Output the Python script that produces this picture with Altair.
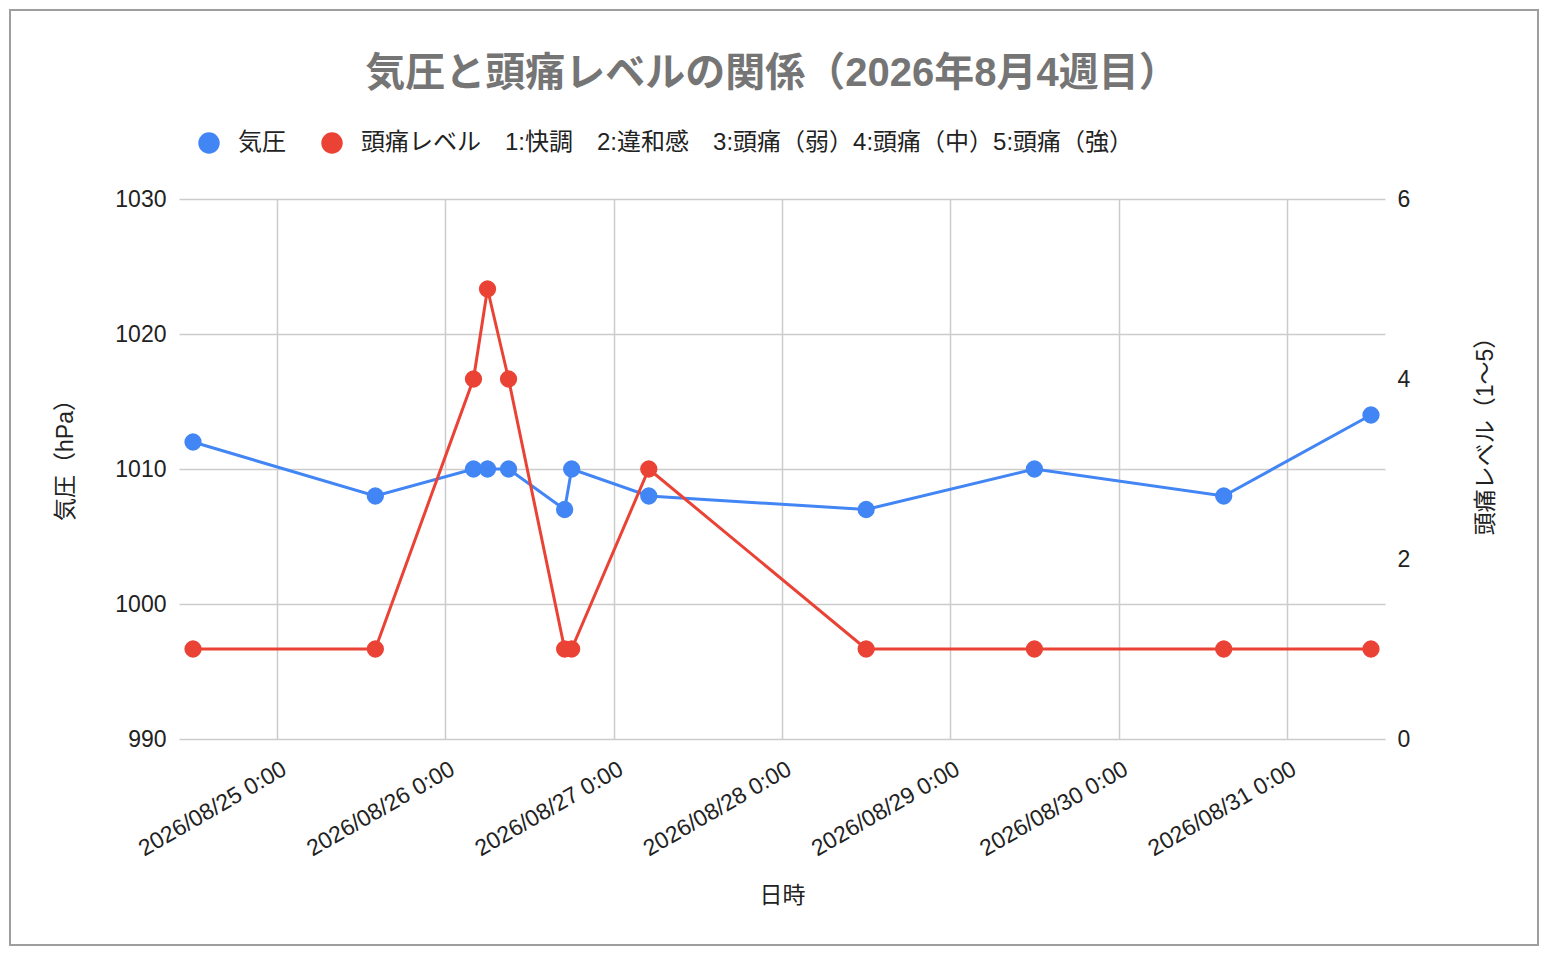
import altair as alt
import pandas as pd

FONT = "Liberation Sans, Arial, Noto Sans CJK JP"

times = [
    "2026-08-24T12:00", "2026-08-25T14:00", "2026-08-26T04:00", "2026-08-26T06:00",
    "2026-08-26T09:00", "2026-08-26T17:00", "2026-08-26T18:00", "2026-08-27T05:00",
    "2026-08-28T12:00", "2026-08-29T12:00", "2026-08-30T15:00", "2026-08-31T12:00",
]
pressure = [1012, 1008, 1010, 1010, 1010, 1007, 1010, 1008, 1007, 1010, 1008, 1014]
level = [1, 1, 4, 5, 4, 1, 1, 3, 1, 1, 1, 1]

series_names = ["気圧", "頭痛レベル　1:快調　2:違和感　3:頭痛（弱）4:頭痛（中）5:頭痛（強）"]
series_colors = ["#4285F4", "#EA4335"]

df_p = pd.DataFrame({"t": pd.to_datetime(times), "v": pressure, "s": series_names[0]})
df_l = pd.DataFrame({"t": pd.to_datetime(times), "v": level, "s": series_names[1]})

x = alt.X(
    "t:T",
    scale=alt.Scale(domain=[alt.DateTime(year=2026, month=8, date=24, hours=10),
                            alt.DateTime(year=2026, month=8, date=31, hours=14)], nice=False),
    axis=alt.Axis(
        title="日時", format="%Y/%m/%d %-H:%M", tickCount={"interval": "day", "step": 1},
        labelAngle=330, labelAlign="right", labelBaseline="middle",
        labelOffset=7, labelPadding=28, ticks=False, tickSize=0, domain=False,
        grid=True, titleY=156, titleBaseline="middle",
    ),
)
color = alt.Color(
    "s:N", scale=alt.Scale(domain=series_names, range=series_colors),
    legend=alt.Legend(
        title=None, orient="none", direction="horizontal", legendX=18, legendY=-68,
        symbolType="circle", symbolSize=460, symbolStrokeWidth=0, labelOffset=17,
        columnPadding=34, labelFontSize=24, labelColor="#222222", labelLimit=1400,
        labelFont=FONT,
    ),
)

y_p = alt.Y(
    "v:Q", scale=alt.Scale(domain=[990, 1030], nice=False),
    axis=alt.Axis(
        title="気圧（hPa）", values=[990, 1000, 1010, 1020, 1030], format="d", orient="left",
        labelPadding=13, ticks=False, tickSize=0, domain=False, grid=True,
        titleAngle=270, titleX=-114, titleY=255, titleAlign="center", titleBaseline="middle",
    ),
)
y_l = alt.Y(
    "v:Q", scale=alt.Scale(domain=[0, 6], nice=False),
    axis=alt.Axis(
        title="頭痛レベル（1〜5）", values=[0, 2, 4, 6], format="d", orient="right",
        labelPadding=12, ticks=False, tickSize=0, domain=False, grid=False,
        titleAngle=270, titleX=100, titleY=231, titleAlign="center", titleBaseline="middle",
    ),
)

p_line = alt.Chart(df_p).mark_line(strokeWidth=3, color=series_colors[0]).encode(x=x, y=y_p)
p_pts = alt.Chart(df_p).mark_point(filled=True, size=300, opacity=1).encode(x=x, y=y_p, color=color)
l_line = alt.Chart(df_l).mark_line(strokeWidth=3, color=series_colors[1]).encode(x=x, y=y_l)
l_pts = alt.Chart(df_l).mark_point(filled=True, size=300, opacity=1).encode(x=x, y=y_l, color=color)

# outer frame like the spreadsheet chart border
frame = alt.Chart(pd.DataFrame({"a": [0]})).mark_rect(
    fill=None, stroke="#9e9e9e", strokeWidth=2
).encode(x=alt.value(-169), x2=alt.value(1359), y=alt.value(-189), y2=alt.value(746))

chart = (
    alt.layer(alt.layer(p_line, p_pts), alt.layer(l_line, l_pts), frame)
    .resolve_scale(y="independent")
    .properties(
        width=1206, height=540,
        autosize=alt.AutoSizeParams(type="none"),
        padding={"left": 171, "top": 191, "right": 155, "bottom": 208},
        title=alt.TitleParams(
            text="気圧と頭痛レベルの関係（2026年8月4週目）", fontSize=40, fontWeight="bold",
            color="#757575", font=FONT, anchor="middle", offset=0, dy=85, dx=-10,
        ),
        background="white",
    )
    .configure_axis(
        labelFont=FONT, titleFont=FONT, labelFontSize=23, titleFontSize=23,
        labelColor="#222222", titleColor="#222222", titleFontWeight="normal",
        gridColor="#cccccc", gridWidth=1.5,
    )
    .configure_view(stroke=None)
)

chart.save("out.html", embed_options={"renderer": "svg", "actions": False})
